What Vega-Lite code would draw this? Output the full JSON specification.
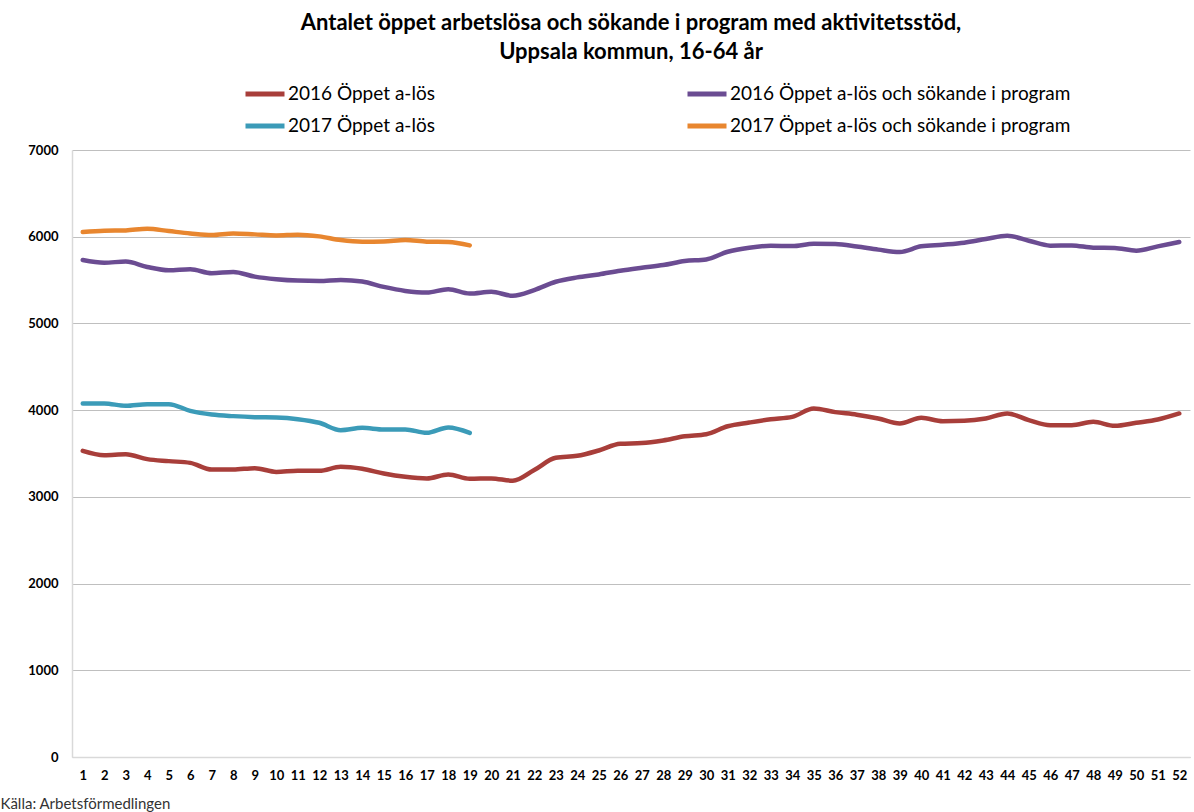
{
  "$schema": "https://vega.github.io/schema/vega-lite/v6.json",
  "autosize": "none",
  "width": 1118,
  "height": 607,
  "padding": {"left": 72, "top": 150, "right": 4, "bottom": 55},
  "background": "white",
  "config": {"font": "Lato", "view": {"stroke": null}},
  "title": {
    "text": ["Antalet öppet arbetslösa och sökande i program med aktivitetsstöd,", "Uppsala kommun, 16-64 år"],
    "anchor": "middle",
    "frame": "group",
    "fontSize": 22,
    "fontWeight": "bold",
    "color": "#000000",
    "lineHeight": 29,
    "offset": 8,
    "font": "Lato"
  },
  "data": {"values": [
    {"w":1,"s":"2016 Öppet a-lös","v":3531},{"w":2,"s":"2016 Öppet a-lös","v":3481},{"w":3,"s":"2016 Öppet a-lös","v":3492},{"w":4,"s":"2016 Öppet a-lös","v":3435},{"w":5,"s":"2016 Öppet a-lös","v":3412},{"w":6,"s":"2016 Öppet a-lös","v":3392},{"w":7,"s":"2016 Öppet a-lös","v":3315},{"w":8,"s":"2016 Öppet a-lös","v":3315},{"w":9,"s":"2016 Öppet a-lös","v":3331},{"w":10,"s":"2016 Öppet a-lös","v":3288},{"w":11,"s":"2016 Öppet a-lös","v":3300},{"w":12,"s":"2016 Öppet a-lös","v":3300},{"w":13,"s":"2016 Öppet a-lös","v":3346},{"w":14,"s":"2016 Öppet a-lös","v":3323},{"w":15,"s":"2016 Öppet a-lös","v":3269},{"w":16,"s":"2016 Öppet a-lös","v":3231},{"w":17,"s":"2016 Öppet a-lös","v":3212},{"w":18,"s":"2016 Öppet a-lös","v":3258},{"w":19,"s":"2016 Öppet a-lös","v":3208},{"w":20,"s":"2016 Öppet a-lös","v":3213},{"w":21,"s":"2016 Öppet a-lös","v":3186},{"w":22,"s":"2016 Öppet a-lös","v":3310},{"w":23,"s":"2016 Öppet a-lös","v":3450},{"w":24,"s":"2016 Öppet a-lös","v":3473},{"w":25,"s":"2016 Öppet a-lös","v":3535},{"w":26,"s":"2016 Öppet a-lös","v":3612},{"w":27,"s":"2016 Öppet a-lös","v":3620},{"w":28,"s":"2016 Öppet a-lös","v":3651},{"w":29,"s":"2016 Öppet a-lös","v":3698},{"w":30,"s":"2016 Öppet a-lös","v":3721},{"w":31,"s":"2016 Öppet a-lös","v":3814},{"w":32,"s":"2016 Öppet a-lös","v":3857},{"w":33,"s":"2016 Öppet a-lös","v":3895},{"w":34,"s":"2016 Öppet a-lös","v":3922},{"w":35,"s":"2016 Öppet a-lös","v":4019},{"w":36,"s":"2016 Öppet a-lös","v":3977},{"w":37,"s":"2016 Öppet a-lös","v":3948},{"w":38,"s":"2016 Öppet a-lös","v":3904},{"w":39,"s":"2016 Öppet a-lös","v":3846},{"w":40,"s":"2016 Öppet a-lös","v":3912},{"w":41,"s":"2016 Öppet a-lös","v":3873},{"w":42,"s":"2016 Öppet a-lös","v":3877},{"w":43,"s":"2016 Öppet a-lös","v":3904},{"w":44,"s":"2016 Öppet a-lös","v":3962},{"w":45,"s":"2016 Öppet a-lös","v":3885},{"w":46,"s":"2016 Öppet a-lös","v":3827},{"w":47,"s":"2016 Öppet a-lös","v":3827},{"w":48,"s":"2016 Öppet a-lös","v":3865},{"w":49,"s":"2016 Öppet a-lös","v":3819},{"w":50,"s":"2016 Öppet a-lös","v":3854},{"w":51,"s":"2016 Öppet a-lös","v":3892},{"w":52,"s":"2016 Öppet a-lös","v":3962},
    {"w":1,"s":"2016 Öppet a-lös och sökande i program","v":5732},{"w":2,"s":"2016 Öppet a-lös och sökande i program","v":5701},{"w":3,"s":"2016 Öppet a-lös och sökande i program","v":5713},{"w":4,"s":"2016 Öppet a-lös och sökande i program","v":5651},{"w":5,"s":"2016 Öppet a-lös och sökande i program","v":5613},{"w":6,"s":"2016 Öppet a-lös och sökande i program","v":5625},{"w":7,"s":"2016 Öppet a-lös och sökande i program","v":5579},{"w":8,"s":"2016 Öppet a-lös och sökande i program","v":5594},{"w":9,"s":"2016 Öppet a-lös och sökande i program","v":5540},{"w":10,"s":"2016 Öppet a-lös och sökande i program","v":5510},{"w":11,"s":"2016 Öppet a-lös och sökande i program","v":5494},{"w":12,"s":"2016 Öppet a-lös och sökande i program","v":5490},{"w":13,"s":"2016 Öppet a-lös och sökande i program","v":5502},{"w":14,"s":"2016 Öppet a-lös och sökande i program","v":5483},{"w":15,"s":"2016 Öppet a-lös och sökande i program","v":5421},{"w":16,"s":"2016 Öppet a-lös och sökande i program","v":5375},{"w":17,"s":"2016 Öppet a-lös och sökande i program","v":5356},{"w":18,"s":"2016 Öppet a-lös och sökande i program","v":5395},{"w":19,"s":"2016 Öppet a-lös och sökande i program","v":5345},{"w":20,"s":"2016 Öppet a-lös och sökande i program","v":5365},{"w":21,"s":"2016 Öppet a-lös och sökande i program","v":5319},{"w":22,"s":"2016 Öppet a-lös och sökande i program","v":5385},{"w":23,"s":"2016 Öppet a-lös och sökande i program","v":5481},{"w":24,"s":"2016 Öppet a-lös och sökande i program","v":5531},{"w":25,"s":"2016 Öppet a-lös och sökande i program","v":5565},{"w":26,"s":"2016 Öppet a-lös och sökande i program","v":5608},{"w":27,"s":"2016 Öppet a-lös och sökande i program","v":5642},{"w":28,"s":"2016 Öppet a-lös och sökande i program","v":5673},{"w":29,"s":"2016 Öppet a-lös och sökande i program","v":5719},{"w":30,"s":"2016 Öppet a-lös och sökande i program","v":5738},{"w":31,"s":"2016 Öppet a-lös och sökande i program","v":5827},{"w":32,"s":"2016 Öppet a-lös och sökande i program","v":5873},{"w":33,"s":"2016 Öppet a-lös och sökande i program","v":5896},{"w":34,"s":"2016 Öppet a-lös och sökande i program","v":5892},{"w":35,"s":"2016 Öppet a-lös och sökande i program","v":5919},{"w":36,"s":"2016 Öppet a-lös och sökande i program","v":5915},{"w":37,"s":"2016 Öppet a-lös och sökande i program","v":5887},{"w":38,"s":"2016 Öppet a-lös och sökande i program","v":5851},{"w":39,"s":"2016 Öppet a-lös och sökande i program","v":5824},{"w":40,"s":"2016 Öppet a-lös och sökande i program","v":5889},{"w":41,"s":"2016 Öppet a-lös och sökande i program","v":5908},{"w":42,"s":"2016 Öppet a-lös och sökande i program","v":5931},{"w":43,"s":"2016 Öppet a-lös och sökande i program","v":5973},{"w":44,"s":"2016 Öppet a-lös och sökande i program","v":6011},{"w":45,"s":"2016 Öppet a-lös och sökande i program","v":5954},{"w":46,"s":"2016 Öppet a-lös och sökande i program","v":5897},{"w":47,"s":"2016 Öppet a-lös och sökande i program","v":5900},{"w":48,"s":"2016 Öppet a-lös och sökande i program","v":5874},{"w":49,"s":"2016 Öppet a-lös och sökande i program","v":5870},{"w":50,"s":"2016 Öppet a-lös och sökande i program","v":5839},{"w":51,"s":"2016 Öppet a-lös och sökande i program","v":5889},{"w":52,"s":"2016 Öppet a-lös och sökande i program","v":5939},
    {"w":1,"s":"2017 Öppet a-lös","v":4077},{"w":2,"s":"2017 Öppet a-lös","v":4077},{"w":3,"s":"2017 Öppet a-lös","v":4050},{"w":4,"s":"2017 Öppet a-lös","v":4069},{"w":5,"s":"2017 Öppet a-lös","v":4069},{"w":6,"s":"2017 Öppet a-lös","v":3992},{"w":7,"s":"2017 Öppet a-lös","v":3950},{"w":8,"s":"2017 Öppet a-lös","v":3931},{"w":9,"s":"2017 Öppet a-lös","v":3919},{"w":10,"s":"2017 Öppet a-lös","v":3915},{"w":11,"s":"2017 Öppet a-lös","v":3896},{"w":12,"s":"2017 Öppet a-lös","v":3854},{"w":13,"s":"2017 Öppet a-lös","v":3769},{"w":14,"s":"2017 Öppet a-lös","v":3796},{"w":15,"s":"2017 Öppet a-lös","v":3777},{"w":16,"s":"2017 Öppet a-lös","v":3777},{"w":17,"s":"2017 Öppet a-lös","v":3738},{"w":18,"s":"2017 Öppet a-lös","v":3800},{"w":19,"s":"2017 Öppet a-lös","v":3738},
    {"w":1,"s":"2017 Öppet a-lös och sökande i program","v":6054},{"w":2,"s":"2017 Öppet a-lös och sökande i program","v":6069},{"w":3,"s":"2017 Öppet a-lös och sökande i program","v":6073},{"w":4,"s":"2017 Öppet a-lös och sökande i program","v":6092},{"w":5,"s":"2017 Öppet a-lös och sökande i program","v":6065},{"w":6,"s":"2017 Öppet a-lös och sökande i program","v":6038},{"w":7,"s":"2017 Öppet a-lös och sökande i program","v":6019},{"w":8,"s":"2017 Öppet a-lös och sökande i program","v":6038},{"w":9,"s":"2017 Öppet a-lös och sökande i program","v":6027},{"w":10,"s":"2017 Öppet a-lös och sökande i program","v":6015},{"w":11,"s":"2017 Öppet a-lös och sökande i program","v":6023},{"w":12,"s":"2017 Öppet a-lös och sökande i program","v":6004},{"w":13,"s":"2017 Öppet a-lös och sökande i program","v":5962},{"w":14,"s":"2017 Öppet a-lös och sökande i program","v":5943},{"w":15,"s":"2017 Öppet a-lös och sökande i program","v":5946},{"w":16,"s":"2017 Öppet a-lös och sökande i program","v":5962},{"w":17,"s":"2017 Öppet a-lös och sökande i program","v":5943},{"w":18,"s":"2017 Öppet a-lös och sökande i program","v":5939},{"w":19,"s":"2017 Öppet a-lös och sökande i program","v":5900}
  ]},
  "mark": {"type": "line", "strokeWidth": 4.5, "interpolate": "monotone", "strokeCap": "round"},
  "encoding": {
    "x": {
      "field": "w", "type": "ordinal",
      "scale": {"type": "point", "padding": 0.5},
      "axis": {
        "title": "Källa: Arbetsförmedlingen",
        "titleAnchor": "start", "titleAlign": "left", "titleBaseline": "middle",
        "titleX": -72, "titleY": 46,
        "titleFontSize": 15, "titleFontWeight": "normal", "titleColor": "#333333",
        "labelAngle": 0, "labelFontSize": 13, "labelFontWeight": "bold", "labelColor": "#000000",
        "labelPadding": 12, "ticks": false, "domainColor": "#d9d9d9", "domainWidth": 1.5, "grid": false
      }
    },
    "y": {
      "field": "v", "type": "quantitative",
      "scale": {"domain": [0, 7000], "nice": false},
      "axis": {
        "title": null, "values": [0,1000,2000,3000,4000,5000,6000,7000], "format": "d",
        "labelFontSize": 13, "labelFontWeight": "bold", "labelColor": "#000000",
        "labelPadding": 14, "ticks": false, "domainColor": "#d9d9d9", "domainWidth": 1.5,
        "grid": true, "gridColor": "#bfbfbf", "gridWidth": 1
      }
    },
    "color": {
      "field": "s", "type": "nominal",
      "scale": {
        "domain": ["2016 Öppet a-lös", "2017 Öppet a-lös", "2016 Öppet a-lös och sökande i program", "2017 Öppet a-lös och sökande i program"],
        "range": ["#a83e3a", "#3b9bb8", "#6b4c92", "#e8862f"]
      },
      "legend": {
        "title": null, "orient": "none", "legendX": 171, "legendY": -78,
        "columns": 2, "columnPadding": 242, "rowPadding": -8,
        "symbolType": "stroke", "symbolSize": 1521, "symbolStrokeWidth": 5,
        "labelFontSize": 19, "labelColor": "#000000", "labelOffset": 1, "labelLimit": 500
      }
    }
  }
}
